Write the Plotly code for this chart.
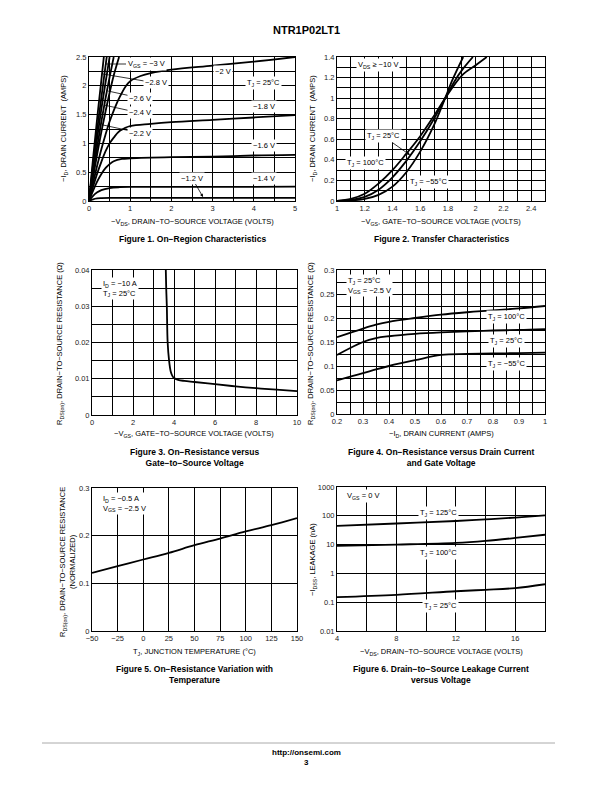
import plotly.graph_objects as go

# page is 612x792; the browser body has an 8px margin, so the figure is 604x784 placed at (8, 8)
OFF = 8
W, H = 612 - OFF, 792 - OFF
def px(x): return (x - OFF) / W
def py(y): return 1 - (y - OFF) / H

# ---------------- Figure 1 data: On-Region Characteristics ----------------
f1_vgs_labels = ["−3 V", "−2.8 V", "−2.6 V", "−2.4 V", "−2.2 V", "−2 V", "−1.8 V", "−1.6 V", "−1.4 V", "−1.2 V"]
f1_vds = [
    [0, 0.1, 0.2, 0.3, 0.36],
    [0, 0.1, 0.2, 0.3, 0.43],
    [0, 0.1, 0.2, 0.3, 0.4, 0.5],
    [0, 0.1, 0.2, 0.3, 0.4, 0.5, 0.6],
    [0, 0.1, 0.2, 0.3, 0.4, 0.5, 0.6, 0.73],
    [0, 0.1, 0.2, 0.3, 0.4, 0.5, 0.6, 0.7, 0.8, 0.9, 1.0, 1.25, 1.5, 2, 3, 4, 5],
    [0, 0.1, 0.2, 0.3, 0.4, 0.5, 0.6, 0.75, 1, 1.5, 2, 3, 4, 5],
    [0, 0.1, 0.2, 0.3, 0.4, 0.5, 0.6, 0.8, 1, 2, 3, 4, 5],
    [0, 0.1, 0.2, 0.3, 0.5, 0.75, 1, 2, 3, 4, 5],
    [0, 0.1, 0.2, 0.3, 0.5, 1, 2, 3, 4, 5],
]
f1_id = [
    [0, 0.75, 1.45, 2.1, 2.5],
    [0, 0.65, 1.25, 1.8, 2.5],
    [0, 0.58, 1.1, 1.6, 2.05, 2.5],
    [0, 0.5, 0.95, 1.38, 1.78, 2.15, 2.5],
    [0, 0.42, 0.82, 1.2, 1.55, 1.88, 2.18, 2.5],
    [0, 0.32, 0.62, 0.9, 1.15, 1.38, 1.57, 1.74, 1.88, 2.0, 2.08, 2.17, 2.22, 2.28, 2.35, 2.42, 2.5],
    [0, 0.25, 0.48, 0.68, 0.86, 1.0, 1.1, 1.22, 1.3, 1.34, 1.37, 1.41, 1.45, 1.49],
    [0, 0.18, 0.34, 0.47, 0.57, 0.64, 0.69, 0.73, 0.74, 0.76, 0.77, 0.79, 0.8],
    [0, 0.09, 0.15, 0.19, 0.225, 0.24, 0.245, 0.245, 0.245, 0.245, 0.25],
    [0, 0.03, 0.045, 0.05, 0.055, 0.055, 0.055, 0.055, 0.055, 0.055],
]

# ---------------- Figure 2 data: Transfer Characteristics ----------------
f2_temps = ["T_J = 100°C", "T_J = 25°C", "T_J = −55°C"]
f2_vgs = [
    [1.0, 1.1, 1.2, 1.3, 1.4, 1.5, 1.6, 1.7, 1.78, 1.9, 2.0, 2.08],
    [1.0, 1.1, 1.2, 1.3, 1.4, 1.5, 1.6, 1.7, 1.78, 1.85, 1.9, 1.98],
    [1.0, 1.1, 1.2, 1.3, 1.4, 1.5, 1.6, 1.7, 1.78, 1.83, 1.91],
]
f2_id = [
    [0, 0.02, 0.07, 0.17, 0.3, 0.46, 0.63, 0.83, 1.0, 1.22, 1.32, 1.4],
    [0, 0.01, 0.04, 0.11, 0.23, 0.39, 0.58, 0.8, 1.0, 1.17, 1.27, 1.4],
    [0, 0.005, 0.02, 0.06, 0.14, 0.28, 0.48, 0.74, 1.0, 1.17, 1.4],
]

# ---------------- Figure 3 data: RDS(on) vs VGS ----------------
f3_vgs = [3.6, 3.62, 3.65, 3.69, 3.76, 3.84, 3.92, 4.0, 4.2, 4.5, 5, 6, 7, 8, 9, 10]
f3_rds = [0.04, 0.035, 0.03, 0.02, 0.015, 0.012, 0.0108, 0.0102, 0.0097, 0.0094, 0.0091, 0.0085, 0.0079, 0.0074, 0.007, 0.0066]

# ---------------- Figure 4 data: RDS(on) vs ID ----------------
f4_id = [0.2, 0.3, 0.35, 0.4, 0.5, 0.6, 0.7, 0.8, 0.9, 1.0]
f4_rds_100 = [0.16, 0.178, 0.186, 0.192, 0.2, 0.207, 0.212, 0.216, 0.22, 0.225]
f4_rds_25 = [0.123, 0.15, 0.158, 0.162, 0.167, 0.17, 0.172, 0.174, 0.175, 0.177]
f4_rds_m55 = [0.07, 0.085, 0.093, 0.1, 0.112, 0.123, 0.125, 0.126, 0.127, 0.128]

# ---------------- Figure 5 data: RDS(on) vs temperature ----------------
f5_tj = [-50, -25, 0, 25, 50, 75, 100, 125, 150]
f5_rds = [0.122, 0.136, 0.150, 0.164, 0.180, 0.194, 0.209, 0.222, 0.237]

# ---------------- Figure 6 data: IDSS leakage ----------------
f6_vds = [4, 8, 12, 14, 16, 18]
f6_i125 = [45, 54, 66, 75, 87, 104]
f6_i100 = [9.0, 10, 11.5, 13.5, 17, 22]
f6_i25 = [0.15, 0.18, 0.24, 0.27, 0.31, 0.42]

FONT = "Liberation Sans, Arial, sans-serif"
TICKF = dict(family=FONT, size=7.5, color="#222")

fig = go.Figure()

def add(xs, ys, xa, ya, shape="spline"):
    fig.add_trace(go.Scatter(x=xs, y=ys, mode="lines", line=dict(color="black", width=1.8, shape=shape),
                             xaxis=xa, yaxis=ya, showlegend=False, hoverinfo="skip"))

for xs, ys in zip(f1_vds, f1_id):
    add(xs, ys, "x", "y")
for xs, ys in zip(f2_vgs, f2_id):
    add(xs, ys, "x2", "y2")
add(f3_vgs, f3_rds, "x3", "y3")
for ys in (f4_rds_100, f4_rds_25, f4_rds_m55):
    add(f4_id, ys, "x4", "y4")
add(f5_tj, f5_rds, "x5", "y5")
for ys in (f6_i125, f6_i100, f6_i25):
    add(f6_vds, ys, "x6", "y6")

def axis(dom, anchor, rng, dtick, minor=None, tick0=None, typ="linear", tickvals=None, ticktext=None):
    d = dict(domain=dom, anchor=anchor, range=rng, type=typ, automargin=False,
             showline=True, mirror=True, linecolor="black", linewidth=1,
             showgrid=True, gridcolor="black", gridwidth=1, zeroline=False,
             ticks="", tickfont=TICKF, fixedrange=True, ticklen=0)
    if tickvals is not None:
        d.update(tickmode="array", tickvals=tickvals, ticktext=ticktext)
    else:
        d.update(dtick=dtick)
        if tick0 is not None:
            d["tick0"] = tick0
    if minor is not None:
        d["minor"] = dict(dtick=minor, showgrid=True, gridcolor="black", gridwidth=1, ticks="")
    return d

# plot areas in page pixels
A1 = (89, 295, 57, 201)
A2 = (337, 545, 57, 201)
A3 = (92, 297, 270, 415)
A4 = (337, 545, 270, 414)
A5 = (92, 297, 488, 631)
A6 = (337, 545, 487, 631)
def xd(a): return [px(a[0]), px(a[1])]
def yd(a): return [py(a[3]), py(a[2])]

fig.update_layout(
    width=W, height=H, autosize=False,
    margin=dict(l=0, r=0, t=0, b=0, pad=0),
    paper_bgcolor="white", plot_bgcolor="white",
    xaxis=axis(xd(A1), "y", [0, 5], 1, minor=0.5, tick0=0),
    yaxis=axis(yd(A1), "x", [0, 2.5], 0.5, minor=0.25, tick0=0),
    xaxis2=axis(xd(A2), "y2", [1, 2.5], 0.2, minor=0.1, tick0=1),
    yaxis2=axis(yd(A2), "x2", [0, 1.4], 0.2, minor=0.1, tick0=0),
    xaxis3=axis(xd(A3), "y3", [0, 10], 2, minor=1, tick0=0),
    yaxis3=axis(yd(A3), "x3", [0, 0.04], 0.01, minor=0.005, tick0=0),
    xaxis4=axis(xd(A4), "y4", [0.2, 1], 0.1, minor=0.05, tick0=0.2),
    yaxis4=axis(yd(A4), "x4", [0, 0.3], 0.05, minor=0.025, tick0=0),
    xaxis5=axis(xd(A5), "y5", [-50, 150], 25, tick0=-50),
    yaxis5=axis(yd(A5), "x5", [0, 0.3], 0.1, tick0=0),
    xaxis6=axis(xd(A6), "y6", [4, 18], 4, minor=2, tick0=4),
    yaxis6=axis(yd(A6), "x6", [-2, 3], None, typ="log",
                tickvals=[0.01, 0.1, 1, 10, 100, 1000], ticktext=["0.01", "0.1", "1", "10", "100", "1000"]),
)

ann = []
def text(x, y, t, size=7.5, bold=False, angle=0, bg=None, align="center", xanchor="center"):
    a = dict(x=px(x), y=py(y), xref="paper", yref="paper", text=(f"<b>{t}</b>" if bold else t),
             showarrow=False, textangle=angle, align=align, xanchor=xanchor, yanchor="middle",
             font=dict(family=FONT, size=size, color="black"))
    if bg:
        a.update(bgcolor=bg, borderpad=1)
    ann.append(a)

def arrow(tx, ty, lx, ly, t, head=0, size=7.5):
    ann.append(dict(x=px(tx), y=py(ty), xref="paper", yref="paper", ax=lx - tx, ay=ly - ty,
                    text=t, showarrow=True, arrowhead=head, arrowsize=0.8, arrowwidth=0.8,
                    arrowcolor="black", bgcolor="white", borderpad=1,
                    font=dict(family=FONT, size=size, color="black")))

# Header / footer
text(306, 30, "NTR1P02LT1", size=11, bold=True)
text(306, 752, "http://onsemi.com", size=8, bold=True)
text(306, 762, "3", size=8, bold=True)

# Figure 1 labels
arrow(106, 64, 146, 64, "V<sub>GS</sub> = −3 V")
arrow(103, 74, 156, 83, "−2.8 V")
arrow(108, 91, 140, 98, "−2.6 V")
arrow(104, 105, 140, 113, "−2.4 V")
arrow(103, 125, 140, 133, "−2.2 V")
text(223, 72, "−2 V", bg="white")
text(263, 83, "T<sub>J</sub> = 25°C", bg="white")
text(264, 107, "−1.8 V", bg="white")
text(264, 146, "−1.6 V", bg="white")
text(264, 178, "−1.4 V", bg="white")
arrow(203, 197, 192, 178, "−1.2 V", head=2)
text(64, 129, "−I<sub>D</sub>, DRAIN CURRENT  (AMPS)", angle=-90)
text(192, 222, "−V<sub>DS</sub>, DRAIN−TO−SOURCE VOLTAGE (VOLTS)")
text(192, 239, "Figure 1. On−Region Characteristics", size=8.5, bold=True)

# Figure 2 labels
text(378, 65, "V<sub>DS</sub> ≥ −10 V", bg="white")
arrow(410, 155, 383, 136, "T<sub>J</sub> = 25°C", head=2)
text(365, 163, "T<sub>J</sub> = 100°C", bg="white")
text(428, 182, "T<sub>J</sub> = −55°C", bg="white")
text(313, 129, "−I<sub>D</sub>, DRAIN CURRENT  (AMPS)", angle=-90)
text(441, 222, "−V<sub>GS</sub>, GATE−TO−SOURCE VOLTAGE (VOLTS)")
text(441, 239, "Figure 2. Transfer Characteristics", size=8.5, bold=True)

# Figure 3 labels
text(101, 288, "I<sub>D</sub> = −10 A<br>T<sub>J</sub> = 25°C", bg="white", align="left", xanchor="left")
text(60, 344, "R<sub>DS(on)</sub>, DRAIN−TO−SOURCE RESISTANCE (Ω)", angle=-90)
text(194, 434, "−V<sub>GS</sub>, GATE−TO−SOURCE VOLTAGE (VOLTS)")
text(194, 457, "Figure 3. On−Resistance versus<br>Gate−to−Source Voltage", size=8.5, bold=True)

# Figure 4 labels
text(346, 285, "T<sub>J</sub> = 25°C<br>V<sub>GS</sub> = −2.5 V", bg="white", align="left", xanchor="left")
text(507, 317, "T<sub>J</sub> = 100°C", bg="white")
text(507, 341, "T<sub>J</sub> = 25°C", bg="white")
text(507, 364, "T<sub>J</sub> = −55°C", bg="white")
text(311, 344, "R<sub>DS(on)</sub>, DRAIN−TO−SOURCE RESISTANCE (Ω)", angle=-90)
text(441, 434, "−I<sub>D</sub>, DRAIN CURRENT (AMPS)")
text(441, 457, "Figure 4. On−Resistance versus Drain Current<br>and Gate Voltage", size=8.5, bold=True)

# Figure 5 labels
text(101, 503, "I<sub>D</sub> = −0.5 A<br>V<sub>GS</sub> = −2.5 V", bg="white", align="left", xanchor="left")
text(67, 562, "R<sub>DS(on)</sub>, DRAIN−TO−SOURCE RESISTANCE<br>(NORMALIZED)", angle=-90)
text(194, 652, "T<sub>J</sub>, JUNCTION TEMPERATURE (°C)")
text(194, 674, "Figure 5. On−Resistance Variation with<br>Temperature", size=8.5, bold=True)

# Figure 6 labels
text(363, 496, "V<sub>GS</sub> = 0 V", bg="white")
text(438, 513, "T<sub>J</sub> = 125°C", bg="white")
text(438, 553, "T<sub>J</sub> = 100°C", bg="white")
text(440, 606, "T<sub>J</sub> = 25°C", bg="white")
text(313, 560, "−I<sub>DSS</sub>, LEAKAGE (nA)", angle=-90)
text(441, 652, "−V<sub>DS</sub>, DRAIN−TO−SOURCE VOLTAGE (VOLTS)")
text(441, 674, "Figure 6. Drain−to−Source Leakage Current<br>versus Voltage", size=8.5, bold=True)

fig.update_layout(annotations=ann)
fig.add_shape(type="line", xref="paper", yref="paper", x0=px(42), x1=px(555), y0=py(743), y1=py(743),
              line=dict(color="#aaaaaa", width=1))

fig.write_html("out.html")
